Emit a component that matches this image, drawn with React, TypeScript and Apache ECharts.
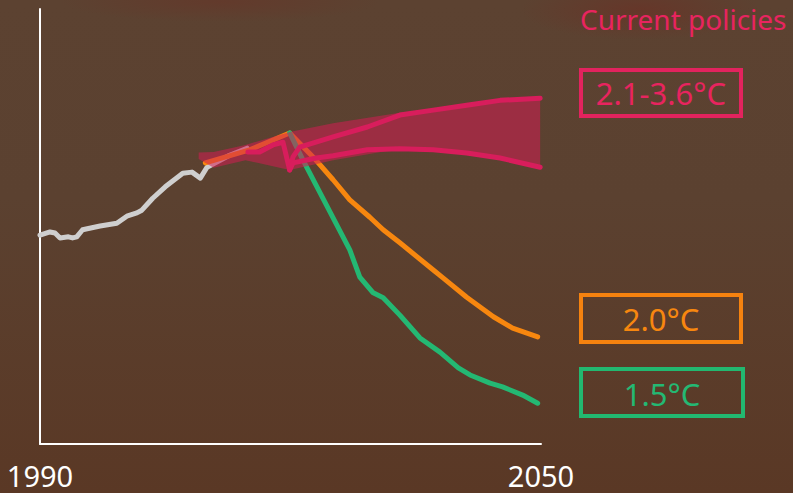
import React, { useEffect, useRef } from "react";
import * as echarts from "echarts";

// Historical emissions (grey)
const historyYears = [1990, 1991.2, 1991.8, 1992.4, 1993.4, 1993.9, 1994.4, 1995.1, 1997.2, 1999.2, 2000.4, 2001.6, 2002.2, 2003.5, 2005.0, 2007.1, 2008.2, 2009.2, 2010.0, 2012.7, 2014.8];
const historyValues = [38.4, 39.0, 38.8, 37.9, 38.1, 37.9, 38.1, 39.4, 40.1, 40.6, 41.9, 42.5, 43.0, 45.2, 47.3, 49.8, 50.0, 48.9, 50.9, 53.1, 54.4];

// 2.0°C pathway (orange)
const path20Years = [2009.8, 2015.1, 2019.9, 2022.7, 2025.1, 2027.1, 2029.5, 2031.1, 2033.1, 2037.1, 2038.3, 2041.1, 2044.3, 2046.6, 2049.6];
const path20Values = [51.7, 54.1, 57.2, 52.8, 48.6, 44.9, 41.7, 39.4, 37.0, 32.0, 30.5, 27.0, 23.4, 21.3, 19.7];

// 1.5°C pathway (green)
const path15Years = [2019.9, 2021.5, 2027.1, 2028.3, 2029.9, 2031.1, 2033.1, 2035.5, 2037.9, 2040.1, 2041.5, 2043.9, 2045.4, 2047.8, 2049.6];
const path15Values = [57.2, 52.2, 35.7, 30.7, 27.8, 26.9, 23.7, 19.5, 16.9, 14.0, 12.7, 11.2, 10.5, 9.0, 7.5];

// Current policies lines (pink)
const policyUpperYears = [2014.9, 2016.3, 2017.9, 2019.1, 2019.9, 2020.3, 2021.1, 2025.1, 2029.2, 2033.1, 2037.1, 2041.1, 2045.1, 2049.9];
const policyUpperValues = [53.7, 53.7, 55.0, 55.5, 50.4, 52.8, 54.6, 56.5, 58.3, 60.5, 61.4, 62.3, 63.2, 63.6];
const policyLowerYears = [2019.9, 2020.3, 2023.1, 2025.1, 2029.2, 2033.1, 2037.1, 2041.1, 2045.1, 2049.9];
const policyLowerValues = [50.4, 51.7, 52.6, 53.0, 54.1, 54.3, 54.1, 53.5, 52.6, 50.9];

// Current policies range (band)
const bandYears = [2009.0, 2010.8, 2014.6, 2019.9, 2025.1, 2033.1, 2037.1, 2041.1, 2045.1, 2049.9];
const bandLow = [52.4, 50.8, 52.2, 50.4, 52.2, 54.3, 54.1, 53.5, 52.6, 50.9];
const bandHigh = [53.6, 53.7, 55.0, 57.4, 59.0, 60.9, 61.6, 62.5, 63.3, 63.8];

const xTickLabels = [1990, 2050];
const FONT = "Noto Sans";

const zip = (xs: number[], ys: number[]) => xs.map((x, i) => [x, ys[i]]);

export default function App() {
  const ref = useRef<HTMLDivElement>(null);
  useEffect(() => {
    if (!ref.current) return;
    const chart = echarts.init(ref.current, null, { renderer: "svg" });
    const lineBase = (color: string, z: number) => ({
      type: "line",
      showSymbol: false,
      symbol: "none",
      smooth: false,
      z,
      lineStyle: { color, width: 5, cap: "round", join: "round" },
      emphasis: { disabled: true },
    });
    chart.setOption({
      animation: false,
      backgroundColor: "transparent",
      grid: { left: 40, right: 252, top: 9, bottom: 49 },
      xAxis: {
        type: "value",
        min: 1990,
        max: 2050,
        interval: 10,
        axisLine: { show: true, lineStyle: { color: "#ffffff", width: 2 } },
        axisTick: { show: false },
        splitLine: { show: false },
        axisLabel: {
          show: true,
          color: "#ffffff",
          fontSize: 29,
          fontFamily: FONT,
          margin: 17,
          showMinLabel: true,
          showMaxLabel: true,
          formatter: (v: number) => (xTickLabels.includes(v) ? String(v) : ""),
        },
      },
      yAxis: {
        type: "value",
        min: 0,
        max: 80,
        axisLine: { show: true, lineStyle: { color: "#ffffff", width: 2 } },
        axisTick: { show: false },
        axisLabel: { show: false },
        splitLine: { show: false },
      },
      series: [
        { ...lineBase("#cfcfcf", 2), name: "History", data: zip(historyYears, historyValues) },
        { ...lineBase("#f7870f", 3), name: "2.0°C", data: zip(path20Years, path20Values) },
        { ...lineBase("#24b873", 3), name: "1.5°C", data: zip(path15Years, path15Values) },
        {
          type: "custom",
          name: "Current policies range",
          z: 4,
          data: bandYears.map((y, i) => [y, bandLow[i], bandHigh[i]]),
          encode: { x: 0, y: [1, 2] },
          renderItem: (params: any, api: any) => {
            if (params.dataIndex !== 0) return null;
            const upper = bandYears.map((y, i) => api.coord([y, bandHigh[i]]));
            const lower = bandYears.map((y, i) => api.coord([y, bandLow[i]])).reverse();
            return {
              type: "polygon",
              shape: { points: upper.concat(lower) },
              style: { fill: "rgba(210,30,82,0.55)" },
            };
          },
        },
        { ...lineBase("#d81d5c", 5), name: "Policies upper", data: zip(policyUpperYears, policyUpperValues) },
        { ...lineBase("#d81d5c", 5), name: "Policies lower", data: zip(policyLowerYears, policyLowerValues) },
      ],
      graphic: [
        {
          type: "text",
          left: 580,
          top: 5,
          z: 10,
          style: { text: "Current policies", fill: "#e8245f", fontSize: 28, fontFamily: FONT },
        },
        {
          type: "rect",
          z: 10,
          shape: { x: 581, y: 70, width: 160, height: 46 },
          style: { fill: "transparent", stroke: "#e2235e", lineWidth: 4 },
        },
        {
          type: "text",
          z: 10,
          x: 661,
          y: 93,
          style: { text: "2.1-3.6°C", fill: "#e8245f", fontSize: 31, fontFamily: FONT, align: "center", verticalAlign: "middle" },
        },
        {
          type: "rect",
          z: 10,
          shape: { x: 581, y: 295, width: 160, height: 47 },
          style: { fill: "transparent", stroke: "#f5820f", lineWidth: 4 },
        },
        {
          type: "text",
          z: 10,
          x: 661,
          y: 319,
          style: { text: "2.0°C", fill: "#f7870f", fontSize: 31, fontFamily: FONT, align: "center", verticalAlign: "middle" },
        },
        {
          type: "rect",
          z: 10,
          shape: { x: 581, y: 369, width: 162, height: 47 },
          style: { fill: "transparent", stroke: "#22b870", lineWidth: 4 },
        },
        {
          type: "text",
          z: 10,
          x: 662,
          y: 394,
          style: { text: "1.5°C", fill: "#24b873", fontSize: 31, fontFamily: FONT, align: "center", verticalAlign: "middle" },
        },
      ],
    });
    return () => chart.dispose();
  }, []);
  return (
    <div
      style={{
        position: "fixed",
        left: 0,
        top: 0,
        width: 793,
        height: 493,
        overflow: "hidden",
        background:
          "radial-gradient(ellipse 120px 30px at 640px 10px, rgba(110,45,35,0.55), rgba(110,45,35,0)), radial-gradient(ellipse 160px 20px at 220px 2px, rgba(105,50,38,0.5), rgba(105,50,38,0)), linear-gradient(180deg, #5c4231 0%, #5b4130 40%, #5a3825 100%)",
      }}
    >
      <div ref={ref} style={{ width: 793, height: 493 }} />
    </div>
  );
}
